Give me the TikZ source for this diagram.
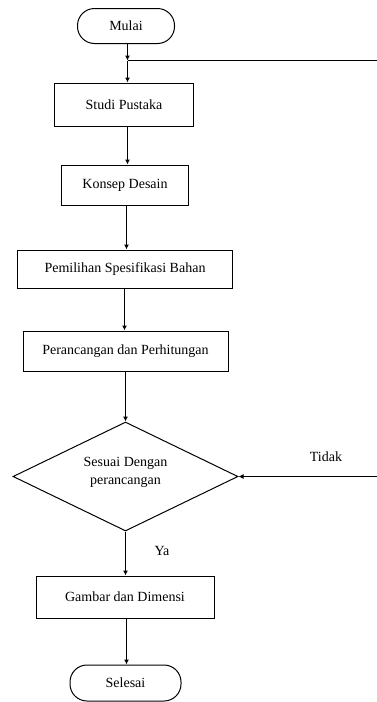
\documentclass[tikz,border=0pt]{standalone}
\usepackage{fontspec}
\setmainfont{Liberation Serif}
\newfontfamily\labelfont{Liberation Serif}
\usetikzlibrary{arrows.meta,shapes.geometric}
\begin{document}
\begin{tikzpicture}[x=1pt,y=-1pt,
  every node/.style={font=\labelfont\fontsize{14}{18}\selectfont, inner sep=0pt, align=center},
  procbox/.style={draw, line width=1pt, rectangle},
  termbox/.style={draw, line width=1pt, rectangle, rounded corners=17pt},
  decbox/.style={draw, line width=1pt, diamond, aspect=2.06},
  flow/.style={line width=1pt, -{Latex[length=5pt,width=5pt]}},
  plain/.style={line width=1pt}]
\useasboundingbox (0,0) rectangle (377,702);
\node[termbox, minimum width=97pt, minimum height=35pt] (mulai) at (126,26) {Mulai};
\coordinate (junc) at (127.5,60.5);
\coordinate (topright) at (377,60.5);
\node[procbox, minimum width=139pt, minimum height=43pt] (studi) at (124,104.5) {Studi Pustaka};
\node[procbox, minimum width=127pt, minimum height=40pt] (konsep) at (125,185) {Konsep Desain};
\node[procbox, minimum width=215pt, minimum height=38pt] (pemilihan) at (125,269) {Pemilihan Spesifikasi Bahan};
\node[procbox, minimum width=205pt, minimum height=40pt] (perancangan) at (125.5,351) {Perancangan dan Perhitungan};
\node[decbox, minimum width=225pt, minimum height=109pt] (sesuai) at (125.5,476.5) {};
\node (sesuaitext) at (125.5,472) {Sesuai Dengan\\perancangan};
\coordinate (botright) at (377,476.5);
\node (tidak) at (326,457) {Tidak};
\node (ya) at (162,551) {Ya};
\node[procbox, minimum width=178pt, minimum height=42pt] (gambar) at (125,597) {Gambar dan Dimensi};
\node[termbox, minimum width=111pt, minimum height=36pt] (selesai) at (125.5,683) {Selesai};

\draw[flow] (mulai.south -| junc) -- (junc);
\draw[flow] (junc) -- (junc |- studi.north);
\draw[plain] (junc) -- (topright);
\draw[flow] (studi.south -| 127.5,0) -- (konsep.north -| 127.5,0);
\draw[flow] (konsep.south -| 126.5,0) -- (pemilihan.north -| 126.5,0);
\draw[flow] (pemilihan.south -| 124.5,0) -- (perancangan.north -| 124.5,0);
\draw[flow] (perancangan.south -| sesuai.north) -- (sesuai.north);
\draw[flow] (botright) -- (sesuai.east);
\draw[flow] (sesuai.south) -- (gambar.north -| sesuai.south);
\draw[flow] (gambar.south -| 126.5,0) -- (selesai.north -| 126.5,0);
\end{tikzpicture}
\end{document}
